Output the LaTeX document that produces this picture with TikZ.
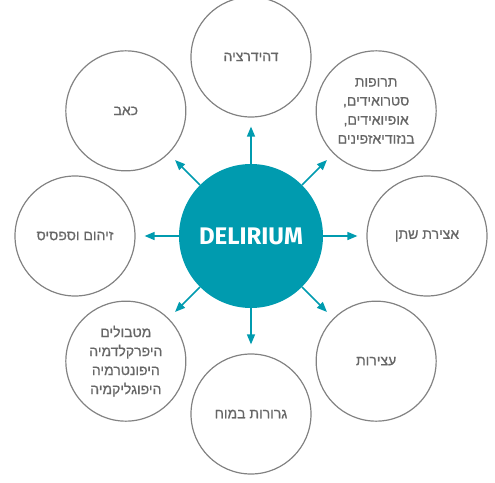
\documentclass[tikz,border=0pt]{standalone}
\usepackage{fontspec}
\setmainfont{Liberation Sans}
\newfontfamily\hebfont[Script=Hebrew, FakeBold=0.8]{Liberation Sans}
\newfontfamily\titlefont{Fira Sans}
\usetikzlibrary{arrows.meta}
\TeXXeTstate=1
\definecolor{delblue}{HTML}{009BAF}
\definecolor{ringgray}{HTML}{828282}
\definecolor{textgray}{HTML}{666666}
\newcommand{\heb}[1]{\beginR #1\endR}

\begin{document}
\begin{tikzpicture}[x=1pt, y=1pt,
    hub/.style={circle, fill=delblue, minimum size=144pt, inner sep=0pt, text=white, font=\titlefont\bfseries\fontsize{24}{28}\selectfont},
    cause/.style={circle, draw=ringgray, line width=1.2pt, minimum size=120pt, inner sep=0pt, align=center, text=textgray, font=\hebfont\fontsize{14}{19}\selectfont},
    spoke/.style={-{Triangle[length=10pt,width=8pt]}, draw=delblue, fill=delblue, line width=1.5pt, shorten >=9pt}]
    \useasboundingbox (-251,-246) rectangle (244,236);
    % Nodes
    \node[hub] (delirium) at (0,0) {DELIRIUM};
    \node[cause] (dehydration) at (90:179) {\heb{דהידרציה}};
    \node[cause] (drugs) at (45:177) {\heb{תרופות}\\\heb{סטרואידים,}\\\heb{אופיואידים,}\\\heb{בנזודיאזפינים}};
    \node[cause] (retention) at (0:176) {\heb{אצירת שתן}};
    \node[cause] (constipation) at (-45:177) {\heb{עצירות}};
    \node[cause] (metastases) at (-90:178) {\heb{גרורות במוח}};
    \node[cause] (metabolic) at (-135:177) {\heb{מטבולים}\\\heb{היפרקלדמיה}\\\heb{היפונטרמיה}\\\heb{היפוגליקמיה}};
    \node[cause] (infection) at (180:176) {\heb{זיהום וספסיס}};
    \node[cause] (pain) at (135:177) {\heb{כאב}};

    % Arrows
    \foreach \target in {dehydration, drugs, retention, constipation, metastases, metabolic, infection, pain}
        \draw[spoke] (delirium) -- (\target);
\end{tikzpicture}
\end{document}
